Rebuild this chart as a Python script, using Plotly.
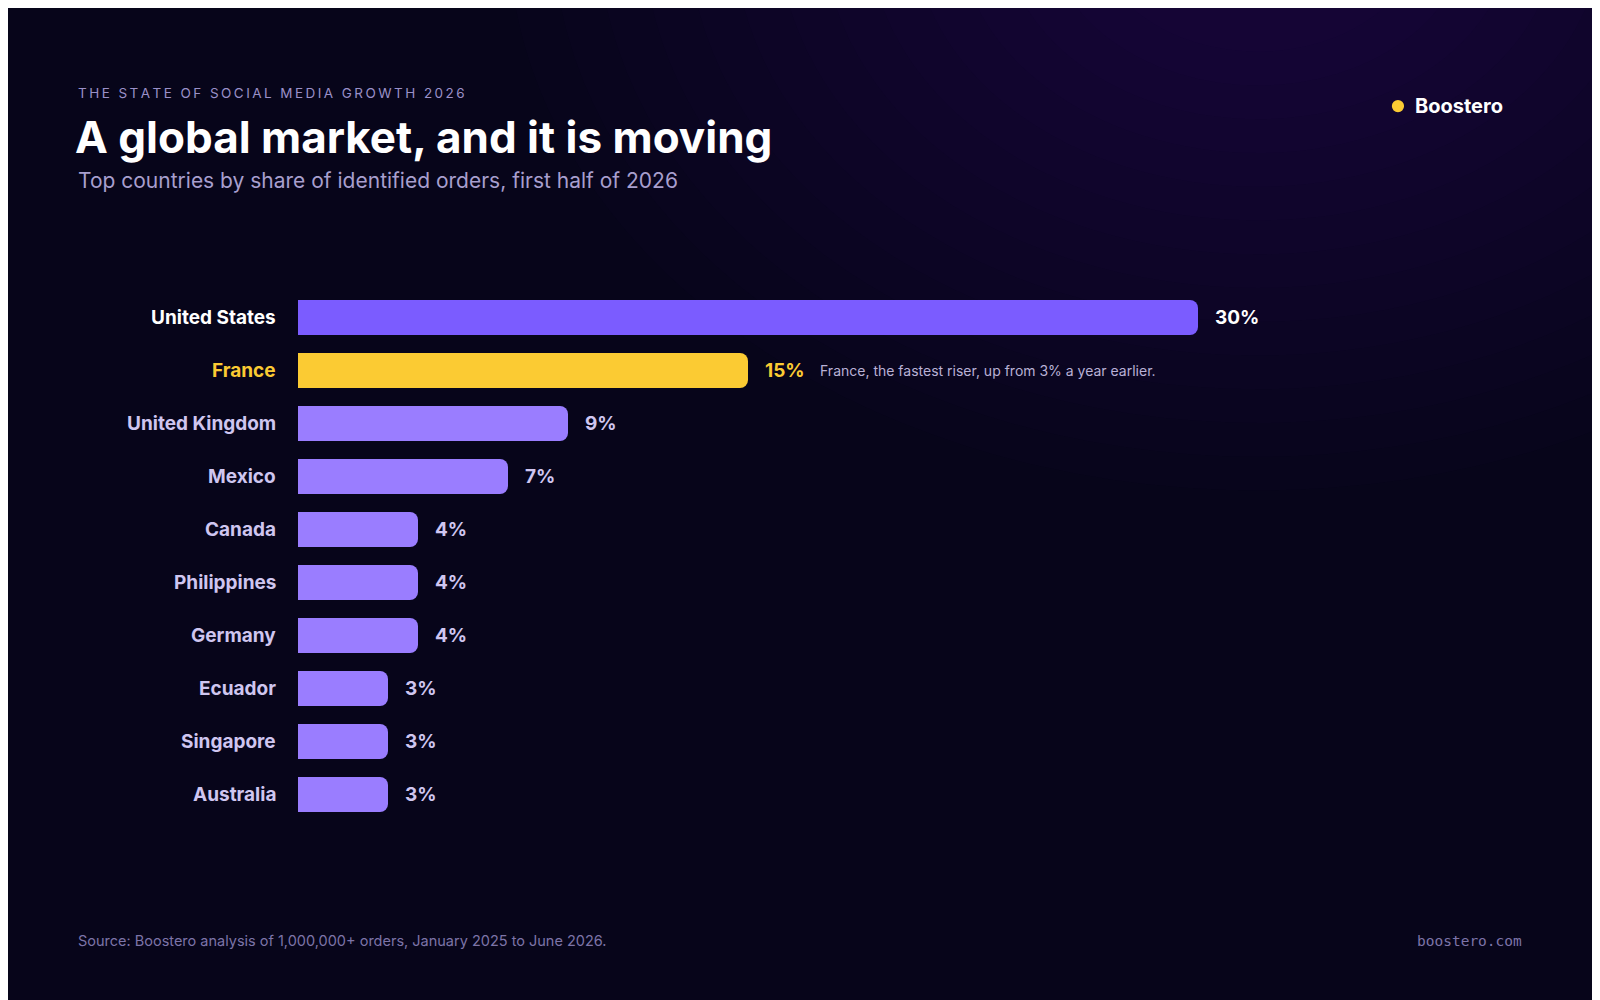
import plotly.graph_objects as go

countries = ["United States","France","United Kingdom","Mexico","Canada","Philippines","Germany","Ecuador","Singapore","Australia"]
shares = [30,15,9,7,4,4,4,3,3,3]
labels = ["30%","15%","9%","7%","4%","4%","4%","3%","3%","3%"]

bar_colors = ["#7b5cff" if c=="United States" else "#fbcb33" if c=="France" else "#9a7dff" for c in countries]
txt_colors = ["#ffffff" if c=="United States" else "#fbcb33" if c=="France" else "#cfc6f0" for c in countries]

L, R, T, B = 290, 110, 283, 187
PW, PH = 1600 - L - R, 1000 - T - B
def px(x): return (x/0.98 - 8 - L) / PW
def py(y): return (1000 - B - (y/0.98 - 8)) / PH

fig = go.Figure(go.Bar(x=shares, y=countries, orientation="h", marker=dict(color=bar_colors, line=dict(width=0)),
                       width=0.66, hoverinfo="skip"))

shapes = []
cx, cy = 1250, -80
n = 14
for i in range(n):
    r = 750 - i * 45
    shapes.append(dict(type="circle", xref="paper", yref="paper", layer="below",
        x0=(cx-r-L)/PW, x1=(cx+r-L)/PW, y0=(1000-B-(cy+r*0.75))/PH, y1=(1000-B-(cy-r*0.75))/PH,
        fillcolor="rgba(80,30,150,0.018)", line=dict(width=0)))
shapes.append(dict(type="circle", xref="paper", yref="paper", x0=px(1364), x1=px(1376), y0=py(110), y1=py(98),
                   fillcolor="#fbcb33", line=dict(width=0)))

ann = []
for c, v, l, tc in zip(countries, shares, labels, txt_colors):
    ann.append(dict(x=0, y=c, xref="x", yref="y", text=f"<b>{c}</b>", showarrow=False, xanchor="right", xshift=-20,
                    font=dict(family="Inter", size=19, color=tc)))
    ann.append(dict(x=v, y=c, xref="x", yref="y", text=f"<b>{l}</b>", showarrow=False, xanchor="left", xshift=15,
                    font=dict(family="Inter", size=19, color=tc)))
ann.append(dict(x=15, y="France", xref="x", yref="y", text="France, the fastest riser, up from 3% a year earlier.",
                showarrow=False, xanchor="left", xshift=70, font=dict(family="Inter", size=14, color="#b9b1d6")))
def t(x, y, text, size, color, anchor="left", family="Inter"):
    return dict(x=px(x), y=py(y), xref="paper", yref="paper", text=text, showarrow=False, xanchor=anchor, yanchor="middle",
                font=dict(family=family, size=size, color=color))
kicker = "\u2009".join("THE STATE OF SOCIAL MEDIA GROWTH 2026")
ann += [
    t(74, 91, kicker, 13.5, "#9a90c8"),
    t(72, 134, "<b>A global market, and it is moving</b>", 44, "#ffffff"),
    t(74, 177, "Top countries by share of identified orders, first half of 2026", 21, "#a89fce"),
    t(1385, 104, "<b>Boostero</b>", 20, "#ffffff"),
    t(74, 922, "Source: Boostero analysis of 1,000,000+ orders, January 2025 to June 2026.", 14.5, "#7d74a8"),
    t(1494, 922, "boostero.com", 14.5, "#7d74a8", anchor="right", family="DejaVu Sans Mono"),
]

fig.update_layout(width=1600, height=1000, paper_bgcolor="#07051a", plot_bgcolor="rgba(0,0,0,0)",
    margin=dict(l=L, r=R, t=T, b=B), showlegend=False, barcornerradius=8,
    xaxis=dict(range=[0, 40], visible=False, fixedrange=True),
    yaxis=dict(autorange="reversed", showticklabels=False, showgrid=False, zeroline=False, fixedrange=True),
    annotations=ann, shapes=shapes)
fig.write_html("out.html")
